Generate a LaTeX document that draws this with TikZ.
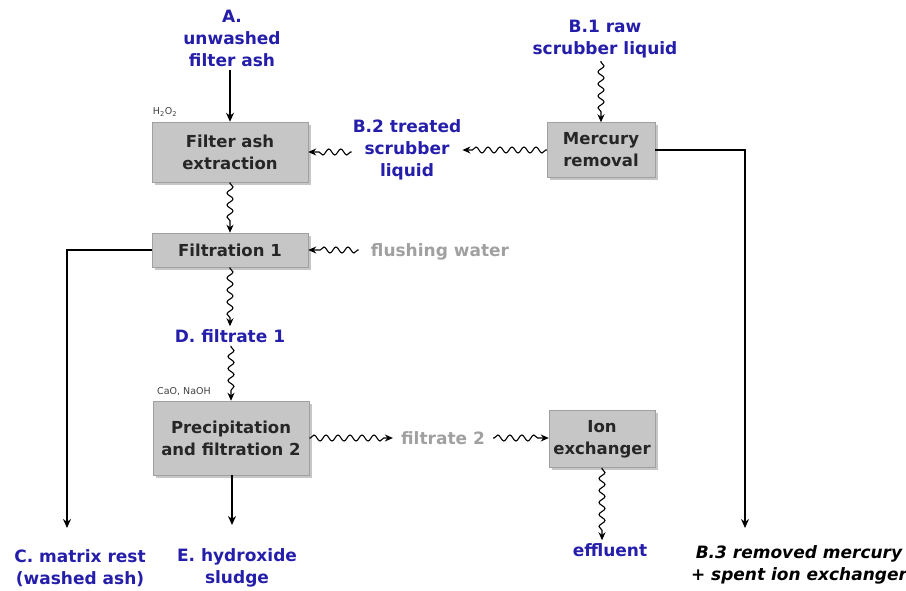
\documentclass[tikz,border=0pt]{standalone}
\usepackage{fontspec}
\setmainfont{DejaVu Sans}
\usetikzlibrary{decorations.pathmorphing,arrows.meta,shadows}
\definecolor{boxgray}{RGB}{198,198,198}
\definecolor{boxedge}{RGB}{160,160,160}
\definecolor{lblue}{RGB}{36,30,170}
\definecolor{lgray}{RGB}{160,160,160}
\begin{document}
\begin{tikzpicture}[x=1pt,y=-1pt,
  box/.style={draw=boxedge, line width=0.5pt, fill=boxgray, align=center,
    drop shadow={shadow xshift=2.5pt, shadow yshift=-2.5pt, opacity=0.45},
    font=\bfseries\fontsize{16.5}{22}\selectfont, text=black!85, inner sep=0pt},
  lbl/.style={align=center, font=\bfseries\fontsize{17}{22}\selectfont, text=lblue, inner sep=3pt},
  glbl/.style={align=center, font=\bfseries\fontsize{17}{22}\selectfont, text=lgray, inner sep=4pt},
  small/.style={font=\fontsize{9.5}{11}\selectfont, text=black!75, inner sep=0pt},
  arr/.style={line width=1.4pt, -{Stealth[length=9pt,width=8pt]}},
  wavy/.style={line width=1.1pt, -{Stealth[length=8pt,width=7pt]}, decorate,
    decoration={snake, amplitude=3pt, segment length=12pt, pre length=1pt, post length=7pt}}
]
\useasboundingbox (0,0) rectangle (906,590);

% boxes
\node[box, minimum width=156pt, minimum height=60pt] (fae) at (230,152) {Filter ash\\extraction};
\node[box, minimum width=108pt, minimum height=55pt] (mr) at (601,150) {Mercury\\removal};
\node[box, minimum width=156pt, minimum height=34pt] (f1) at (230,250) {Filtration 1};
\node[box, minimum width=156pt, minimum height=74pt] (pf2) at (231,438) {Precipitation\\and filtration 2};
\node[box, minimum width=106pt, minimum height=57pt] (ie) at (602,439) {Ion\\exchanger};

% labels
\node[lbl] (a) at (232,38) {A.\\unwashed\\filter ash};
\node[lbl] (b1) at (605,39) {B.1 raw\\scrubber liquid};
\node[lbl, inner sep=1pt] (b2) at (407,150) {B.2 treated\\scrubber\\liquid};
\node[glbl, inner sep=12pt] (fw) at (440,252) {flushing water};
\node[lbl] (d1) at (230,336) {D. filtrate 1};
\node[glbl, inner sep=8pt] (f2) at (443,438) {filtrate 2};
\node[lbl] (eff) at (610,550) {effluent};
\node[lbl] (c) at (80,568) {C. matrix rest\\(washed ash)};
\node[lbl] (e) at (237,568) {E. hydroxide\\sludge};
\node[lbl, text=black, font=\bfseries\itshape\fontsize{17}{22}\selectfont] (b3) at (799,565) {B.3 removed mercury\\+ spent ion exchanger};
\node[small] (h2o2) at (165,112) {H\textsubscript{2}O\textsubscript{2}};
\node[small] (cao) at (184,392) {CaO, NaOH};

\coordinate (c1) at (67,528);
\coordinate (c3) at (745,528);
\coordinate (ce) at (232,525);

% connectors
\draw[arr] (a.south -| fae.north) -- (fae.north);
\draw[wavy] (b1.south -| mr.north) -- (mr.north);
\draw[wavy] (mr.west) -- (b2.east |- mr.west);
\draw[wavy] (b2.west |- fae.east) -- (fae.east);
\draw[arr] (mr.east) -| (c3);
\draw[wavy] (fae.south) -- (f1.north);
\draw[wavy] (fw.west |- f1.east) -- (f1.east);
\draw[arr] (f1.west) -| (c1);
\draw[wavy] (f1.south) -- (d1.north -| f1.south);
\draw[wavy] (d1.south -| pf2.north) -- (pf2.north);
\draw[wavy] (pf2.east) -- (f2.west |- pf2.east);
\draw[wavy] (f2.east |- pf2.east) -- (ie.west |- pf2.east);
\draw[wavy] (ie.south) -- (ie.south |- eff.north);
\draw[arr] (pf2.south -| ce) -- (ce);
\end{tikzpicture}
\end{document}
